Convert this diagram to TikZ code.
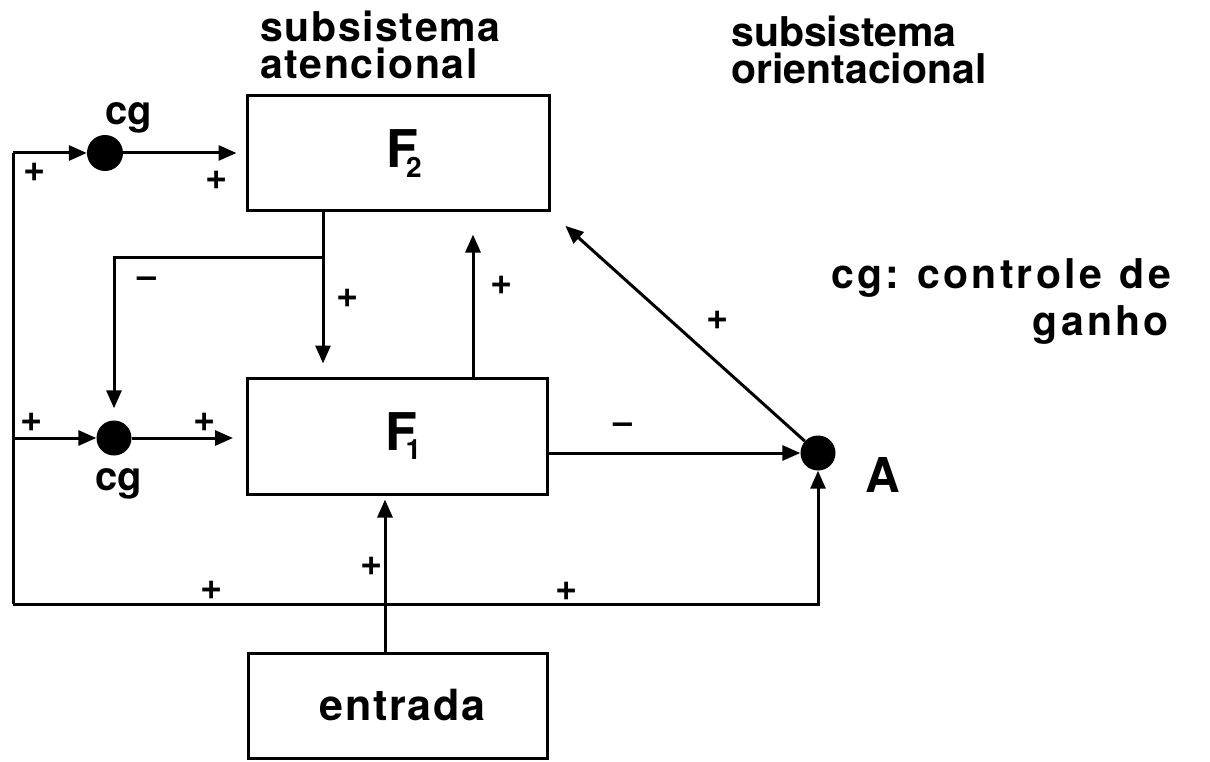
\documentclass[tikz,border=0pt]{standalone}
\usepackage{fontspec}
\setmainfont{TeX Gyre Heros}
\usetikzlibrary{arrows.meta}
\newcommand{\fsz}[1]{\fontsize{#1}{#1}\selectfont\bfseries}
\begin{document}
\begin{tikzpicture}[x=1pt,y=-1pt,
  wire/.style={line width=3pt},
  arr/.style={wire,-{Triangle[length=18pt,width=15pt]}},
  block/.style={draw,line width=3pt,inner sep=0,font=\fsz{52}},
  dot/.style={circle,fill,inner sep=0,minimum size=35pt},
  sign/.style={inner sep=0,font=\fsz{38}},
  minus/.style={inner sep=0,font=\fsz{34}},
  lbl/.style={inner sep=0,anchor=base west}]
\useasboundingbox (0,0) rectangle (1210,762);

% blocks
\node[block,minimum width=302pt,minimum height=115pt] (F2) at (398,153.5)
  {\hspace{12pt}F\kern-12pt\raisebox{-10pt}{\fsz{28}2}};
\node[block,minimum width=300pt,minimum height=116pt] (F1) at (397.5,436)
  {\hspace{12pt}F\kern-12pt\raisebox{-9pt}{\fsz{28}1}};
\node[block,minimum width=299pt,minimum height=105pt,
  font=\fsz{43}\addfontfeatures{LetterSpace=4}] (ent) at (397.5,705.5) {\hspace{10pt}entrada};

% gain-control junctions and orienting node
\node[dot,minimum size=36pt] (cg1) at (105,153) {};
\node[dot] (cg2) at (114,438) {};
\node[dot] (A) at (818,453) {};

% titles and labels
\node[lbl,font=\fsz{41}\addfontfeatures{LetterSpace=4}] (t1a) at (260,42) {subsistema};
\node[lbl,font=\fsz{41}\addfontfeatures{LetterSpace=4}] (t1b) at (260,79) {atencional};
\node[lbl,font=\fsz{41}] (t2a) at (731,47) {subsistema};
\node[lbl,font=\fsz{41}] (t2b) at (731,84) {orientacional};
\node[lbl,font=\fsz{41}\addfontfeatures{LetterSpace=8}] (key1) at (831,288)
  {cg:\hspace{18pt}controle\hspace{18pt}de};
\node[inner sep=0,anchor=base east,font=\fsz{41}\addfontfeatures{LetterSpace=8}] (key2) at (1169,335) {ganho};
\node[lbl,font=\fsz{40}] (cgl1) at (105,125) {cg};
\node[lbl,font=\fsz{40}] (cgl2) at (95,490) {cg};
\node[lbl,font=\fsz{48}] (Al) at (865,492) {A};

% feedback frame
\coordinate (tl) at (13,153);
\coordinate (bl) at (13,604);
\draw[arr] (tl) -- (cg1.west);
\draw[wire] (tl) -- (bl);
\draw[arr] (bl) -| (A.south);
\draw[arr] (tl |- cg2) -- (cg2.west);

% forward paths
\draw[arr,shorten >=9pt] (cg1.east) -- (F2.west |- cg1);
\draw[arr,shorten >=13pt] (cg2.east) -- (F1.west |- cg2);
\coordinate (j) at (323,257);
\draw[arr,shorten >=13pt] (F2.south -| j) -- (F1.north -| j);
\draw[arr,shorten >=12pt] (j) -| (cg2.north);
\draw[arr,shorten >=22pt] (F1.north -| 473,0) -- (F2.south -| 473,0);
\draw[arr] (F1.east |- A) -- (A.west);
\draw[arr,shorten >=20pt] (A) -- (F2.south east);
\draw[arr,shorten >=4pt] (ent.north -| 385,0) -- (F1.south -| 385,0);

% signs
\node[sign] (s1) at (35,172) {+};
\node[sign] (s2) at (217,180) {+};
\node[minus] (s3) at (147,282) {–};
\node[sign] (s4) at (348,298) {+};
\node[sign] (s5) at (502,285) {+};
\node[sign] (s6) at (718,320) {+};
\node[sign] (s7) at (32,422) {+};
\node[sign] (s8) at (205,422) {+};
\node[minus] (s9) at (623,428) {–};
\node[sign] (s10) at (212,590) {+};
\node[sign] (s11) at (372,566) {+};
\node[sign] (s12) at (567,591) {+};
\end{tikzpicture}
\end{document}
